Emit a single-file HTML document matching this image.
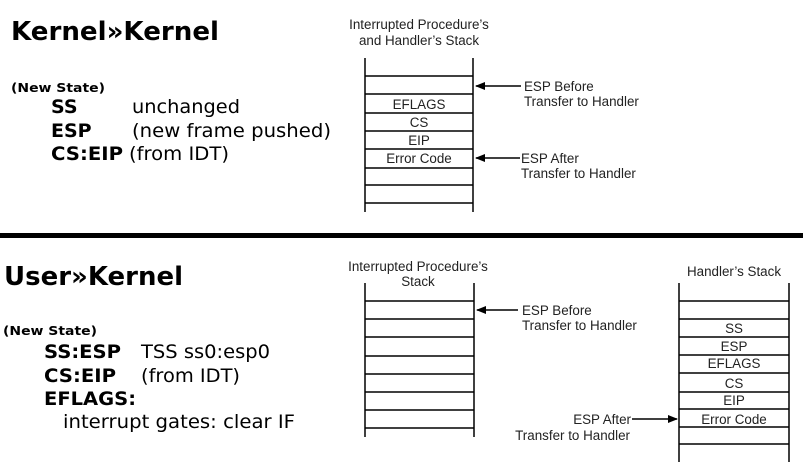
<!DOCTYPE html>
<html><head><meta charset="utf-8"><style>
html,body{margin:0;padding:0;background:#fff;}
svg{display:block;}
.t{font-family:"DejaVu Sans",sans-serif;fill:#000;}
.d{font-family:"Liberation Sans",sans-serif;fill:#222;font-size:13.4px;}
</style></head><body>
<svg width="803" height="475" viewBox="0 0 803 475" xmlns="http://www.w3.org/2000/svg">
<defs><marker id="ah" markerWidth="10" markerHeight="8" refX="9" refY="4" orient="auto" markerUnits="userSpaceOnUse"><path d="M0,0 L10,4 L0,8 Z" fill="#000"/></marker></defs>
<text class="t" x="11" y="40" font-size="26" font-weight="bold" textLength="208" lengthAdjust="spacingAndGlyphs">Kernel»Kernel</text>
<text class="t" x="11" y="92" font-size="12" font-weight="bold" textLength="94" lengthAdjust="spacingAndGlyphs">(New State)</text>
<g font-size="19">
<text class="t" x="51" y="113" font-weight="bold">SS</text>
<text class="t" x="132" y="113" textLength="108" lengthAdjust="spacingAndGlyphs">unchanged</text>
<text class="t" x="51" y="137" font-weight="bold">ESP</text>
<text class="t" x="132" y="137" textLength="199" lengthAdjust="spacingAndGlyphs">(new frame pushed)</text>
<text class="t" x="51" y="160" font-weight="bold" textLength="72" lengthAdjust="spacingAndGlyphs">CS:EIP</text>
<text class="t" x="129" y="160" textLength="100" lengthAdjust="spacingAndGlyphs">(from IDT)</text>
</g>
<rect x="0" y="233" width="803" height="5" fill="#000"/>
<text class="t" x="4" y="285" font-size="26" font-weight="bold" textLength="179" lengthAdjust="spacingAndGlyphs">User»Kernel</text>
<text class="t" x="3" y="335" font-size="12" font-weight="bold" textLength="94" lengthAdjust="spacingAndGlyphs">(New State)</text>
<g font-size="19">
<text class="t" x="44" y="358" font-weight="bold" textLength="77" lengthAdjust="spacingAndGlyphs">SS:ESP</text>
<text class="t" x="141" y="358" textLength="129" lengthAdjust="spacingAndGlyphs">TSS ss0:esp0</text>
<text class="t" x="44" y="382" font-weight="bold" textLength="72" lengthAdjust="spacingAndGlyphs">CS:EIP</text>
<text class="t" x="141" y="382" textLength="99" lengthAdjust="spacingAndGlyphs">(from IDT)</text>
<text class="t" x="44" y="405" font-weight="bold" textLength="92" lengthAdjust="spacingAndGlyphs">EFLAGS:</text>
<text class="t" x="63" y="428" textLength="232" lengthAdjust="spacingAndGlyphs">interrupt gates: clear IF</text>
</g>
<g stroke="#000" stroke-width="1.5">
<line x1="365" y1="58" x2="365" y2="212"/><line x1="473" y1="58" x2="473" y2="212"/>
<line x1="365" y1="76" x2="473" y2="76"/><line x1="365" y1="94" x2="473" y2="94"/>
<line x1="365" y1="113" x2="473" y2="113"/><line x1="365" y1="131" x2="473" y2="131"/>
<line x1="365" y1="149" x2="473" y2="149"/><line x1="365" y1="168" x2="473" y2="168"/>
<line x1="365" y1="185" x2="473" y2="185"/><line x1="365" y1="203" x2="473" y2="203"/>
<line x1="521" y1="86" x2="476" y2="86" marker-end="url(#ah)"/>
<line x1="520" y1="158" x2="476" y2="158" marker-end="url(#ah)"/>
</g>
<text class="d" x="419" y="29" text-anchor="middle">Interrupted Procedure’s</text>
<text class="d" x="419" y="45" text-anchor="middle">and Handler’s Stack</text>
<text class="d" x="419" y="109" text-anchor="middle">EFLAGS</text>
<text class="d" x="419" y="127" text-anchor="middle">CS</text>
<text class="d" x="419" y="145" text-anchor="middle">EIP</text>
<text class="d" x="419" y="163" text-anchor="middle">Error Code</text>
<text class="d" x="524" y="91">ESP Before</text>
<text class="d" x="524" y="106">Transfer to Handler</text>
<text class="d" x="521" y="163">ESP After</text>
<text class="d" x="521" y="178">Transfer to Handler</text>
<g stroke="#000" stroke-width="1.5">
<line x1="365" y1="283" x2="365" y2="437"/><line x1="474" y1="283" x2="474" y2="437"/>
<line x1="365" y1="301" x2="474" y2="301"/><line x1="365" y1="319" x2="474" y2="319"/>
<line x1="365" y1="337" x2="474" y2="337"/><line x1="365" y1="356" x2="474" y2="356"/>
<line x1="365" y1="374" x2="474" y2="374"/><line x1="365" y1="392" x2="474" y2="392"/>
<line x1="365" y1="410" x2="474" y2="410"/><line x1="365" y1="428" x2="474" y2="428"/>
<line x1="518" y1="310" x2="477" y2="310" marker-end="url(#ah)"/>
<line x1="679" y1="283" x2="679" y2="462"/><line x1="789" y1="283" x2="789" y2="462"/>
<line x1="679" y1="301" x2="789" y2="301"/><line x1="679" y1="319" x2="789" y2="319"/>
<line x1="679" y1="337" x2="789" y2="337"/><line x1="679" y1="355" x2="789" y2="355"/>
<line x1="679" y1="373" x2="789" y2="373"/><line x1="679" y1="392" x2="789" y2="392"/>
<line x1="679" y1="409" x2="789" y2="409"/><line x1="679" y1="427" x2="789" y2="427"/>
<line x1="679" y1="444" x2="789" y2="444"/>
<line x1="632" y1="419" x2="677" y2="419" marker-end="url(#ah)"/>
</g>
<text class="d" x="418" y="271" text-anchor="middle">Interrupted Procedure’s</text>
<text class="d" x="418" y="286" text-anchor="middle">Stack</text>
<text class="d" x="522" y="315">ESP Before</text>
<text class="d" x="522" y="330">Transfer to Handler</text>
<text class="d" x="734" y="276" text-anchor="middle">Handler’s Stack</text>
<text class="d" x="734" y="333" text-anchor="middle">SS</text>
<text class="d" x="734" y="351" text-anchor="middle">ESP</text>
<text class="d" x="734" y="368" text-anchor="middle">EFLAGS</text>
<text class="d" x="734" y="388" text-anchor="middle">CS</text>
<text class="d" x="734" y="405" text-anchor="middle">EIP</text>
<text class="d" x="734" y="424" text-anchor="middle">Error Code</text>
<text class="d" x="631" y="424" text-anchor="end">ESP After</text>
<text class="d" x="630" y="440" text-anchor="end">Transfer to Handler</text>
</svg>
</body></html>
